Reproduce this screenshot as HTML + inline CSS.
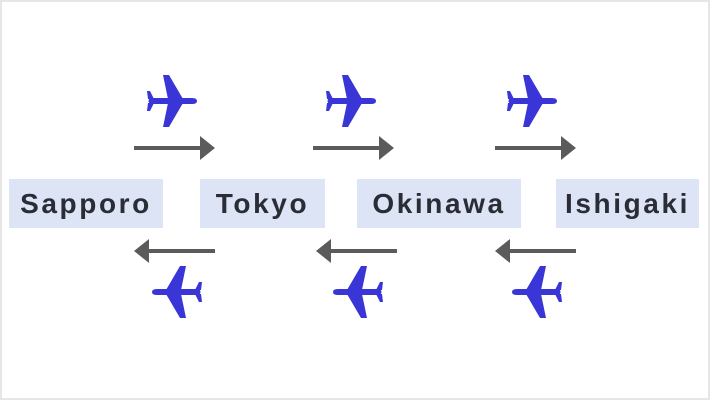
<!DOCTYPE html>
<html><head><meta charset="utf-8"><style>
html,body{margin:0;padding:0;background:#fff}
body{width:710px;height:400px;position:relative;overflow:hidden}
.frame{position:absolute;left:0;top:0;width:706px;height:396px;border:2px solid #e6e6e6}
.box{position:absolute;top:179px;height:49px;background:#dce4f5;font:bold 28px "Liberation Sans",sans-serif;color:#2a2d35;letter-spacing:2.6px;line-height:49px;text-align:center;white-space:nowrap}
svg{position:absolute;left:0;top:0}
</style></head><body>
<div class="frame"></div>
<div class="box" style="left:9px;width:154px">Sapporo</div>
<div class="box" style="left:200px;width:125px">Tokyo</div>
<div class="box" style="left:357px;width:164px">Okinawa</div>
<div class="box" style="left:556px;width:143px">Ishigaki</div>
<svg width="710" height="400">
<defs>
<g id="p" fill="#3a35d6">
<path d="M-22,-3 L20,-3 Q25,-3 25,0 Q25,3 20,3 L-22,3 Q-25,0 -22,-3Z"/>
<path d="M11,-2 L-3,-26 L-9,-26 L-4,-2Z"/>
<path d="M11,2 L-3,26 L-9,26 L-4,2Z"/>
<path d="M-18,-2 L-22,-10 L-25,-10 L-24,-2Z"/>
<path d="M-18,2 L-22,10 L-25,10 L-24,2Z"/>
</g>
<g id="ar" fill="#5b5b5b"><rect x="0" y="-2" width="68" height="4"/><path d="M66,-12 L81,0 L66,12Z"/></g>
</defs>
<use href="#p" transform="translate(172,101)"/>
<use href="#p" transform="translate(351,101)"/>
<use href="#p" transform="translate(532,101)"/>
<use href="#p" transform="translate(177,292) scale(-1,1)"/>
<use href="#p" transform="translate(358,292) scale(-1,1)"/>
<use href="#p" transform="translate(537,292) scale(-1,1)"/>
<use href="#ar" transform="translate(134,148)"/>
<use href="#ar" transform="translate(313,148)"/>
<use href="#ar" transform="translate(495,148)"/>
<use href="#ar" transform="translate(215,251) scale(-1,1)"/>
<use href="#ar" transform="translate(397,251) scale(-1,1)"/>
<use href="#ar" transform="translate(576,251) scale(-1,1)"/>
</svg>
</body></html>
